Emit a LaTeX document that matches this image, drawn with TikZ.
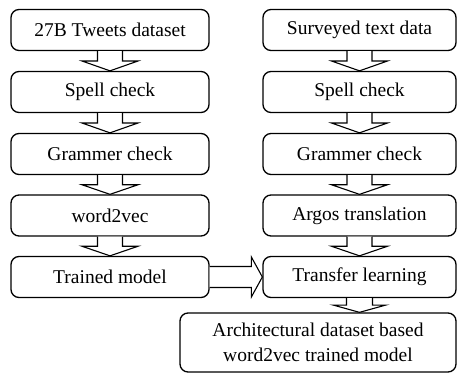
\documentclass[tikz,border=0pt]{standalone}
\usepackage{fontspec}
\setmainfont{Liberation Serif}
\usetikzlibrary{calc}

\tikzset{
  stepbox/.style={draw, line width=1.3pt, rounded corners=8pt, fill=white,
    inner sep=0pt, align=center, font=\fontsize{19.5}{25}\selectfont},
  leftbox/.style={stepbox, minimum width=198pt, minimum height=41pt},
  rightbox/.style={stepbox, minimum width=193pt, minimum height=41pt},
  blk/.style={draw, line width=1.1pt, fill=white, line join=miter}
}

% hollow block arrow pointing down from #1.south to #2.north
\newcommand\flowdown[2]{%
  \draw[blk] let \p1=(#1.south), \p2=(#2.north) in
    (\x1-12.5pt,\y1) -- (\x1-12.5pt,{(\y1+\y2)/2}) -- (\x1-28pt,{(\y1+\y2)/2})
    -- (\x1,\y2) -- (\x1+28pt,{(\y1+\y2)/2}) -- (\x1+12.5pt,{(\y1+\y2)/2})
    -- (\x1+12.5pt,\y1);}

\begin{document}
\begin{tikzpicture}[x=1pt,y=-1pt]
\useasboundingbox (0,0) rectangle (458,374);

% left column
\node[leftbox] (l1) at (110,30)    {27B Tweets dataset};
\node[leftbox] (l2) at (110,92)    {Spell check};
\node[leftbox] (l3) at (110,154)   {Grammer check};
\node[leftbox] (l4) at (110,215.5) {word2vec};
\node[leftbox] (l5) at (110,277)   {Trained model};

% right column
\node[rightbox] (r1) at (359.5,30)    {Surveyed text data};
\node[rightbox] (r2) at (359.5,92)    {Spell check};
\node[rightbox] (r3) at (359.5,154)   {Grammer check};
\node[rightbox] (r4) at (359.5,215.5) {Argos translation};
\node[rightbox] (r5) at (359.5,277)   {Transfer learning};

% result
\node[stepbox, minimum width=276pt, minimum height=59pt] (res) at (318,342.5)
  {Architectural dataset based\\word2vec trained model};

\flowdown{l1}{l2}
\flowdown{l2}{l3}
\flowdown{l3}{l4}
\flowdown{l4}{l5}
\flowdown{r1}{r2}
\flowdown{r2}{r3}
\flowdown{r3}{r4}
\flowdown{r4}{r5}

% bottom arrow into the result box
\draw[blk] let \p1=(r5.south), \p2=(r5.south -| res.north), \p3=(res.north -| r5.south) in
  (\x1-13pt,\y1) -- (\x1-13pt,{\y1-7pt}) -- (\x1-26pt,{\y1-7pt})
  -- (\x1,\y3) -- (\x1+26pt,{\y1-7pt}) -- (\x1+13pt,{\y1-7pt}) -- (\x1+13pt,\y1);

% horizontal arrow from trained model to transfer learning
\draw[blk] let \p1=(l5.east), \p2=(r5.west) in
  (\x1,\y1+10.5pt) -- (\x2-11pt,\y1+10.5pt) -- (\x2-11pt,\y1+20pt)
  -- (\x2,\y1) -- (\x2-11pt,\y1-20pt) -- (\x2-11pt,\y1-10.5pt) -- (\x1,\y1-10.5pt);
\end{tikzpicture}
\end{document}
